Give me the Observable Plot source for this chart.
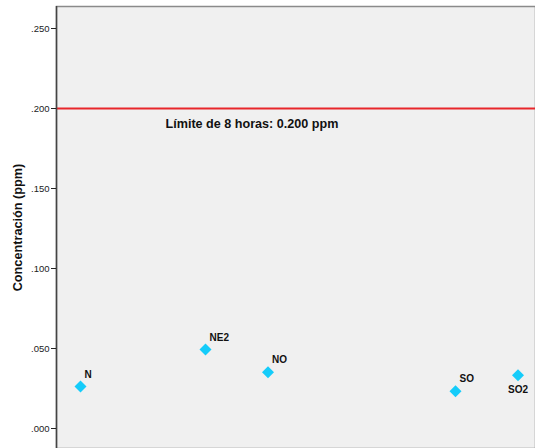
<!DOCTYPE html>
<html><head><meta charset="utf-8">
<script src="https://cdn.jsdelivr.net/npm/d3@7"></script>
<script src="https://cdn.jsdelivr.net/npm/@observablehq/plot@0.6"></script>
<style>body{margin:0;background:#fff;font-family:"Liberation Sans",Arial,sans-serif}</style>
</head><body><div id="chart"></div>
<script>
const sites = ["N", "NE2", "NO", "SO", "SO2"];
const positions = [1, 3, 4, 7, 8];
const concentration = [0.0262, 0.0494, 0.0352, 0.0233, 0.0333];
const yTicks = [0, 0.05, 0.1, 0.15, 0.2, 0.25];
const limitValue = 0.2;
const limitLabel = "Límite de 8 horas: 0.200 ppm";
const labelX = 2.36;
const yTitle = "Concentración (ppm)";

const data = sites.map((s, i) => ({site: s, x: positions[i], y: concentration[i]}));
const below = data.filter(d => d.site === "SO2");
const above = data.filter(d => d.site !== "SO2");
const fmt = d => d3.format(".3f")(d).replace(/^0/, "");
const xDomain = [0.616, 8.28];

const chart = Plot.plot({
  width: 535, height: 448,
  marginLeft: 56, marginTop: 6, marginBottom: 0, marginRight: 0,
  style: {fontFamily: "Liberation Sans, Arial, sans-serif", background: "#fff"},
  x: {domain: xDomain, axis: null},
  y: {domain: [-0.0125, 0.26375], ticks: yTicks, tickFormat: fmt, label: null},
  marks: [
    Plot.frame({fill: "#f0f0f0", stroke: "#8a8a8a", strokeWidth: 1.5}),
    Plot.ruleY([limitValue], {stroke: "#e8262b", strokeWidth: 2}),
    Plot.text([limitLabel], {x: labelX, y: limitValue, text: d => d, textAnchor: "start", dy: 15, fontWeight: "bold", fontSize: 12.6, fill: "#111"}),
    Plot.ruleX([xDomain[0]], {stroke: "#444", strokeWidth: 1.5}),
    Plot.axisY({ticks: yTicks, tickFormat: fmt, tickSize: 5, tickPadding: 2, fontSize: 9.5, color: "#222", label: null}),
    Plot.text([yTitle], {frameAnchor: "left", text: d => d, rotate: -90, textAnchor: "middle", dx: -39, fontWeight: "bold", fontSize: 12.7, fill: "#111"}),
    Plot.dot(data, {x: "x", y: "y", symbol: "square", rotate: 45, r: 4.8, fill: "#15ccfa", stroke: "none"}),
    Plot.text(above, {x: "x", y: "y", text: "site", textAnchor: "start", dx: 4, dy: -12, fontWeight: "bold", fontSize: 10, fill: "#111"}),
    Plot.text(below, {x: "x", y: "y", text: "site", textAnchor: "middle", dy: 15, fontWeight: "bold", fontSize: 10, fill: "#111"})
  ]
});
document.getElementById("chart").append(chart);
</script></body></html>
